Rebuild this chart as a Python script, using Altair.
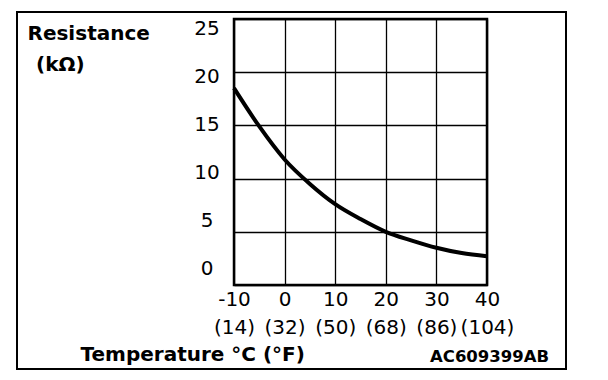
import altair as alt
import pandas as pd

# ---- data ----
temp_c = [-10, -5, 0, 5, 10, 15, 20, 25, 30, 35, 40]
resistance = [18.5, 14.9, 11.8, 9.5, 7.6, 6.2, 5.0, 4.2, 3.5, 3.0, 2.7]

x_ticks = [-10, 0, 10, 20, 30, 40]
x_tick_f = ["(14)", "(32)", "(50)", "(68)", "(86)", "(104)"]
y_ticks = [0, 5, 10, 15, 20, 25]

y_title = "Resistance"
y_unit = ["(k\u03a9)"]
x_title = "Temperature \u00b0C (\u00b0F)"
code_label = ["AC609399AB"]

FONT = "DejaVu Sans"

curve_df = pd.DataFrame({"t": temp_c, "r": resistance})
ytick_df = pd.DataFrame({"v": y_ticks, "label": [str(v) for v in y_ticks]})
code_df = pd.DataFrame({"label": code_label})
unit_df = pd.DataFrame({"label": y_unit})

f_expr = " : ".join(f"datum.value == {c} ? '{f}'" for c, f in zip(x_ticks, x_tick_f)) + " : ''"
label_expr = f"[toString(datum.value), ({f_expr})]"

line = alt.Chart(curve_df).mark_line(
    color="black", strokeWidth=4, interpolate="monotone"
).encode(
    x=alt.X(
        "t:Q",
        scale=alt.Scale(domain=[-10, 40], nice=False),
        axis=alt.Axis(
            values=x_ticks, grid=True, ticks=False, domain=False,
            labelExpr=label_expr, labelLineHeight=28, labelPadding=4,
            labelFontSize=20, labelFont=FONT, labelColor="black",
            labelFlush=False, labelOverlap=False,
            title=x_title, titleFont=FONT, titleFontSize=20, titleFontWeight="bold",
            titleColor="black", titleX=-154, titleY=75, titleAlign="left",
            titleBaseline="alphabetic",
        ),
    ),
    y=alt.Y(
        "r:Q",
        scale=alt.Scale(domain=[0, 25], nice=False),
        axis=alt.Axis(
            values=y_ticks, grid=True, labels=False, ticks=False, domain=False,
            title=y_title, titleFont=FONT, titleFontSize=20, titleFontWeight="bold",
            titleColor="black", titleAngle=0, titleX=-207, titleY=20,
            titleAlign="left", titleBaseline="alphabetic",
        ),
    ),
)

ylab = alt.Chart(ytick_df).mark_text(
    font=FONT, fontSize=20, align="center", baseline="middle", color="black"
).encode(
    x=alt.value(-27),
    y=alt.Y("v:Q", scale=alt.Scale(domain=[0, 25], range=[250, 10]), axis=None),
    text="label:N",
)

unit = alt.Chart(unit_df).mark_text(
    font=FONT, fontSize=20, fontWeight="bold", align="left",
    baseline="alphabetic", color="black"
).encode(
    x=alt.value(-198), y=alt.value(52), text="label:N"
)

code = alt.Chart(code_df).mark_text(
    font=FONT, fontSize=16.5, fontWeight="bold", align="left",
    baseline="alphabetic", color="black"
).encode(
    x=alt.value(196), y=alt.value(343), text="label:N"
)

border = alt.Chart(code_df).mark_rect(
    fillOpacity=0, stroke="black", strokeWidth=2
).encode(
    x=alt.value(-217), x2=alt.value(332), y=alt.value(-7), y2=alt.value(350)
)

chart = alt.layer(border, line, ylab, unit, code).resolve_scale(
    y="independent"
).properties(
    width=253, height=266,
    autosize=alt.AutoSizeParams(type="none"),
    padding={"left": 226, "top": 11, "right": 100, "bottom": 85},
).configure_view(
    stroke="black", strokeWidth=2.5
).configure_axis(
    gridColor="black", gridWidth=1.3, gridOpacity=1
)

chart.save("out.html", embed_options={"renderer": "svg", "actions": False})
